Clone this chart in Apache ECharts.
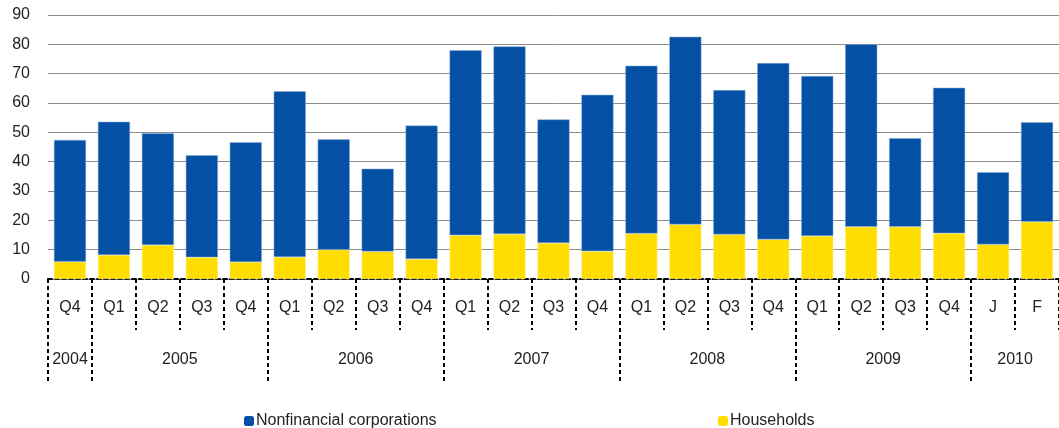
<!DOCTYPE html>
<html>
<head>
<meta charset="utf-8">
<script src="https://cdn.jsdelivr.net/npm/echarts@6/dist/echarts.min.js"></script>
<style>
  html, body { margin: 0; padding: 0; background: #fff; }
  #chart-area { width: 1059px; height: 428px; }
</style>
</head>
<body>
<div id="chart-area"></div>
<script>
// period labels, one per bar
const periods = ['Q4', 'Q1', 'Q2', 'Q3', 'Q4', 'Q1', 'Q2', 'Q3', 'Q4', 'Q1', 'Q2', 'Q3',
	'Q4', 'Q1', 'Q2', 'Q3', 'Q4', 'Q1', 'Q2', 'Q3', 'Q4', 'J', 'F']
const years = ['2004', '2005', '2006', '2007', '2008', '2009', '2010']
const yearCounts = [1, 4, 4, 4, 4, 4, 2]

const totals = [47.4, 53.6, 49.7, 42.2, 46.6, 64.0, 47.6, 37.6, 52.3, 78.0, 79.3, 54.4,
	62.8, 72.7, 82.6, 64.4, 73.6, 69.2, 80.0, 48.0, 65.2, 36.4, 53.4]
const households = [5.9, 8.2, 11.6, 7.4, 5.8, 7.5, 10.0, 9.4, 6.8, 14.9, 15.3, 12.3,
	9.5, 15.5, 18.6, 15.2, 13.5, 14.7, 17.8, 17.8, 15.6, 11.8, 19.5]
const corporations = totals.map((t, i) => +(t - households[i]).toFixed(1))

const yTicks = { min: 0, max: 90, step: 10 }

// year boundaries and year label positions on a 0..n scale
const yearStarts = []
const yearMids = []
let acc = 0
yearCounts.forEach((c) => {
	yearStarts.push(acc)
	yearMids.push(acc + c / 2)
	acc += c
})

const dashed = { color: '#000', width: 2, type: [4, 3] }
const font = 'Liberation Sans, Arial, sans-serif'
const txt = { fontSize: 16, color: '#222', fontFamily: font }

const myChart = echarts.init(document.getElementById('chart-area'))
const option = {
	animation: false,
	textStyle: { fontFamily: font },
	grid: { left: 48, right: -5, top: 15, bottom: 149, containLabel: false },
	legend: [{
		data: ['Nonfinancial corporations'],
		left: 239,
		top: 408,
		itemWidth: 10,
		itemHeight: 10,
		itemGap: 4,
		itemStyle: { borderWidth: 0 },
		textStyle: { ...txt, padding: [0, 0, 0, -3] }
	}, {
		data: ['Households'],
		left: 713,
		top: 408,
		itemWidth: 10,
		itemHeight: 10,
		itemStyle: { borderWidth: 0 },
		textStyle: { ...txt, padding: [0, 0, 0, -3] }
	}],
	xAxis: [
		{
			type: 'category',
			data: periods,
			position: 'bottom',
			axisLine: { show: true, lineStyle: dashed },
			axisTick: { show: true, interval: 0, length: 51, lineStyle: dashed },
			axisLabel: { interval: 0, margin: 21, ...txt },
			splitLine: { show: false }
		},
		{
			type: 'value',
			min: 0,
			max: periods.length,
			position: 'bottom',
			axisLine: { show: false },
			splitLine: { show: false },
			axisTick: { show: true, length: 102, lineStyle: dashed, customValues: yearStarts },
			axisLabel: {
				margin: 73,
				...txt,
				customValues: yearMids,
				formatter: (v) => years[yearMids.indexOf(v)] || ''
			}
		}
	],
	yAxis: {
		type: 'value',
		min: yTicks.min,
		max: yTicks.max,
		interval: yTicks.step,
		axisLine: { show: false },
		axisTick: { show: false },
		axisLabel: { margin: 18, ...txt },
		splitLine: { lineStyle: { color: '#8c8c8c', width: 1 } }
	},
	series: [
		{
			name: 'Households',
			type: 'bar',
			stack: 'total',
			xAxisIndex: 0,
			barCategoryGap: '27%',
			itemStyle: { color: '#ffdd00', borderColor: '#fff2a0', borderWidth: 0.5 },
			data: households
		},
		{
			name: 'Nonfinancial corporations',
			type: 'bar',
			stack: 'total',
			xAxisIndex: 0,
			barCategoryGap: '27%',
			itemStyle: { color: '#0450a4', borderColor: '#8fb0d8', borderWidth: 0.5 },
			data: corporations
		}
	]
}
option && myChart.setOption(option)
</script>
</body>
</html>
